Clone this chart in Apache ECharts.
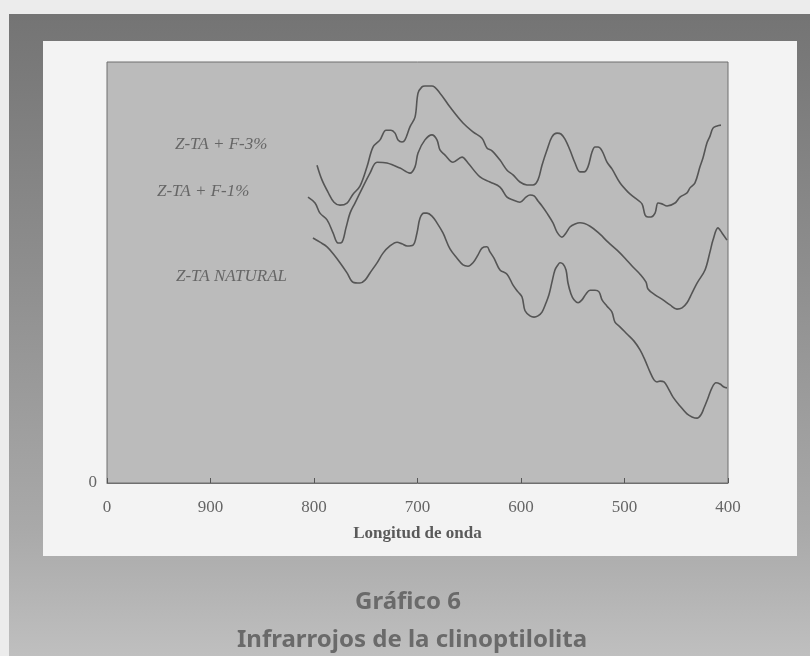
<!DOCTYPE html>
<html>
<head>
<meta charset="utf-8">
<script src="https://cdn.jsdelivr.net/npm/echarts@6/dist/echarts.min.js"></script>
<style>
  html, body { margin: 0; padding: 0; background: #ececec; }
  #wrap { position: relative; width: 810px; height: 656px; overflow: hidden; }
  #frame { position: absolute; left: 9px; top: 14px; width: 801px; height: 642px;
           background: linear-gradient(to bottom, #747474 0%, #8e8e8e 40%, #a9a9a9 80%, #bfbfbf 100%); }
  #panel { position: absolute; left: 43px; top: 41px; width: 754px; height: 515px; background: #f3f3f3; }
  #canva { position: absolute; left: 0; top: 0; width: 810px; height: 656px; }
</style>
</head>
<body>
<div id="wrap">
  <div id="frame"></div>
  <div id="panel"></div>
  <div id="canva"></div>
</div>
<script>
// ========== Data ==========
// x: longitud de onda (axis runs 1000 -> 400, the first tick is printed as "0")
// y: relative transmittance, 0..100

const seriesNames = ['Z-TA + F-3%', 'Z-TA + F-1%', 'Z-TA NATURAL'];
const xTicks = [1000, 900, 800, 700, 600, 500, 400];

// Z-TA + F-3%
const wn1 = [797.1, 792.3, 786.5, 780.7, 774.9, 768.1, 762.3, 755.6, 748.8, 743.0, 736.2, 730.4, 725.6, 721.7,
  718.8, 715.0, 712.1, 707.3, 702.4, 699.5, 695.7, 692.8, 686.0, 678.3, 668.6, 656.0, 646.4, 637.7, 632.9, 628.0,
  620.3, 613.5, 607.7, 601.0, 594.2, 588.4, 583.6, 579.7, 574.9, 570.1, 565.2, 561.4, 557.5, 552.7, 547.8, 543.0,
  539.1, 535.3, 531.4, 528.5, 525.6, 521.7, 516.9, 512.1, 504.4, 496.6, 489.9, 483.1, 480.2, 477.3, 474.4, 470.5,
  467.6, 463.8, 458.9, 451.2, 446.4, 439.6, 436.7, 431.9, 427.1, 424.2, 420.3, 417.4, 414.5, 410.6, 406.8];
const t1 = [75.5, 72.0, 69.1, 66.7, 66.0, 66.5, 68.6, 70.5, 75.1, 79.8, 81.5, 83.8, 83.8, 83.1,
  81.5, 81.0, 81.5, 84.6, 86.9, 92.6, 94.1, 94.3, 94.3, 92.6, 89.3, 85.5, 83.4, 81.9, 79.6, 78.9,
  76.7, 74.3, 73.2, 71.5, 70.8, 70.8, 72.0, 75.5, 79.1, 82.2, 83.1, 82.9, 81.7, 79.1, 76.0, 73.9,
  73.9, 75.1, 78.6, 79.8, 79.8, 78.9, 76.2, 74.6, 71.3, 69.1, 67.7, 66.3, 63.7, 63.2, 63.2, 64.1,
  66.5, 66.3, 65.8, 66.5, 67.9, 68.9, 70.1, 71.3, 75.1, 77.2, 80.8, 82.4, 84.3, 84.8, 85.0];

// Z-TA + F-1%
const wn2 = [805.8, 799.0, 794.2, 787.4, 781.6, 776.8, 773.0, 769.1, 765.2, 760.4, 755.6, 745.9, 739.1, 729.5,
  716.9, 707.3, 702.4, 699.5, 692.8, 686.0, 681.2, 678.3, 673.4, 665.7, 657.0, 651.2, 639.6, 630.0, 620.3, 613.5,
  607.7, 601.0, 595.2, 591.3, 587.4, 583.6, 579.7, 574.9, 569.1, 565.2, 560.4, 556.5, 552.7, 547.8, 543.0, 533.3,
  523.7, 515.9, 507.2, 499.5, 491.8, 485.0, 479.2, 477.3, 470.5, 462.8, 456.0, 449.3, 444.4, 439.6, 434.8, 429.9,
  422.2, 417.4, 414.5, 409.7, 405.8, 401.0];
const t2 = [67.9, 66.5, 64.1, 62.5, 59.4, 57.0, 57.2, 60.6, 64.1, 66.5, 68.9, 73.6, 76.2, 76.0,
  74.8, 73.6, 75.1, 78.4, 81.5, 82.7, 81.5, 79.1, 77.9, 76.2, 77.4, 76.0, 72.7, 71.5, 70.3, 67.9,
  67.2, 66.7, 67.9, 68.4, 68.2, 67.0, 65.8, 64.1, 61.8, 59.6, 58.4, 59.4, 60.8, 61.5, 61.8, 61.0,
  59.1, 57.2, 55.3, 53.4, 51.3, 49.6, 47.7, 46.1, 44.7, 43.5, 42.3, 41.3, 41.6, 42.8, 45.1, 47.5,
  50.6, 54.9, 57.7, 60.6, 59.4, 57.7];

// Z-TA NATURAL
const wn3 = [801.0, 794.2, 787.4, 780.7, 774.9, 768.1, 762.3, 755.6, 750.7, 745.9, 739.1, 733.3, 726.6, 719.8,
  715.0, 710.1, 704.3, 700.5, 697.6, 693.7, 690.8, 686.0, 681.2, 675.4, 668.6, 661.8, 656.0, 651.2, 646.4, 641.5,
  637.7, 632.9, 630.0, 626.1, 620.3, 613.5, 607.7, 602.9, 599.0, 596.1, 591.3, 587.4, 583.6, 579.7, 575.8, 573.0,
  570.1, 567.2, 564.3, 562.3, 559.4, 556.5, 554.6, 551.7, 548.8, 544.9, 541.1, 537.2, 533.3, 528.5, 524.6, 521.7,
  516.9, 512.1, 509.2, 504.4, 497.6, 490.8, 485.0, 480.2, 475.4, 471.5, 468.6, 465.7, 461.8, 458.0, 453.1, 446.4,
  439.6, 434.8, 429.9, 426.1, 423.2, 419.3, 415.5, 411.6, 407.7, 403.9, 401.0];
const t3 = [58.2, 57.2, 56.1, 54.2, 52.3, 49.9, 47.7, 47.5, 48.2, 49.9, 52.3, 54.6, 56.3, 57.2,
  56.8, 56.3, 56.5, 59.4, 62.9, 64.1, 64.1, 63.4, 61.8, 59.4, 55.6, 53.4, 51.8, 51.5, 52.3, 54.2,
  55.8, 56.1, 54.9, 53.4, 50.6, 49.6, 47.0, 45.4, 44.2, 40.9, 39.7, 39.4, 39.7, 40.6, 42.8, 44.7,
  47.7, 50.6, 51.8, 52.3, 52.0, 50.6, 47.5, 44.9, 43.5, 42.8, 43.5, 44.9, 45.8, 45.8, 45.4, 43.5,
  42.0, 40.6, 38.2, 37.1, 35.4, 33.7, 31.6, 29.2, 26.4, 24.5, 24.0, 24.2, 24.0, 22.6, 20.4, 18.3,
  16.4, 15.7, 15.4, 16.2, 17.8, 20.2, 22.6, 23.8, 23.5, 22.8, 22.6];

const chartTitle = 'Gráfico 6';
const chartSubtitle = 'Infrarrojos de la clinoptilolita';
const xName = 'Longitud de onda';

// ========== Build series ==========
function zip(xs, ys) {
    return xs.map((x, i) => [x, ys[i]]);
}
const lineColor = '#555555';
let seriesData = [zip(wn1, t1), zip(wn2, t2), zip(wn3, t3)].map((d, i) => ({
    name: seriesNames[i],
    type: 'line',
    data: d,
    smooth: 0.35,
    showSymbol: false,
    silent: true,
    lineStyle: { color: lineColor, width: 1.6 }
}));

// label spots for the hand-placed curve names (left, middle)
const labelSpots = [[175, 146], [157, 193], [176, 278]];
const txtColor = '#666666';

var chartDom = document.getElementById('canva');
var myChart = echarts.init(chartDom, null, { renderer: 'canvas' });
var option = {
    animation: false,
    backgroundColor: 'transparent',
    grid: {
        left: 107, right: 82, top: 62, bottom: 173,
        show: true,
        backgroundColor: '#bbbbbb',
        borderColor: '#6f6f6f',
        borderWidth: 1
    },
    xAxis: {
        type: 'value',
        inverse: true,
        min: 400,
        max: 1000,
        interval: 100,
        name: xName,
        nameLocation: 'middle',
        nameGap: 42,
        nameTextStyle: { fontFamily: 'Liberation Serif', fontWeight: 'bold', fontSize: 17, color: '#5a5a5a' },
        axisLine: { show: true, lineStyle: { color: '#6f6f6f', width: 1 } },
        axisTick: { show: true, inside: true, length: 5, lineStyle: { color: '#555' } },
        axisLabel: {
            margin: 16,
            fontFamily: 'Liberation Serif',
            fontSize: 17,
            color: txtColor,
            formatter: v => (xTicks.indexOf(v) === 0 ? '0' : String(v))
        },
        splitLine: { show: false }
    },
    yAxis: {
        type: 'value',
        min: 0,
        max: 100,
        interval: 100,
        axisLine: { show: false },
        axisTick: { show: false },
        axisLabel: {
            margin: 10,
            fontFamily: 'Liberation Serif',
            fontSize: 17,
            color: txtColor,
            verticalAlign: 'middle',
            formatter: v => (v === 0 ? '0' : '')
        },
        splitLine: { show: false }
    },
    graphic: seriesNames.map((n, i) => ({
        type: 'text',
        left: labelSpots[i][0],
        top: labelSpots[i][1] - 10,
        style: {
            text: n,
            font: 'italic 17px "Liberation Serif"',
            fill: txtColor
        }
    })).concat([
        {
            type: 'text', x: 408, y: 602,
            style: { text: chartTitle, font: 'bold 24px "Noto Sans"', fill: '#6a6a6a', align: 'center', verticalAlign: 'middle' }
        },
        {
            type: 'text', x: 412, y: 640,
            style: { text: chartSubtitle, font: 'bold 24px "Noto Sans"', fill: '#6a6a6a', align: 'center', verticalAlign: 'middle' }
        }
    ]),
    series: seriesData
};
option && myChart.setOption(option);
</script>
</body>
</html>
